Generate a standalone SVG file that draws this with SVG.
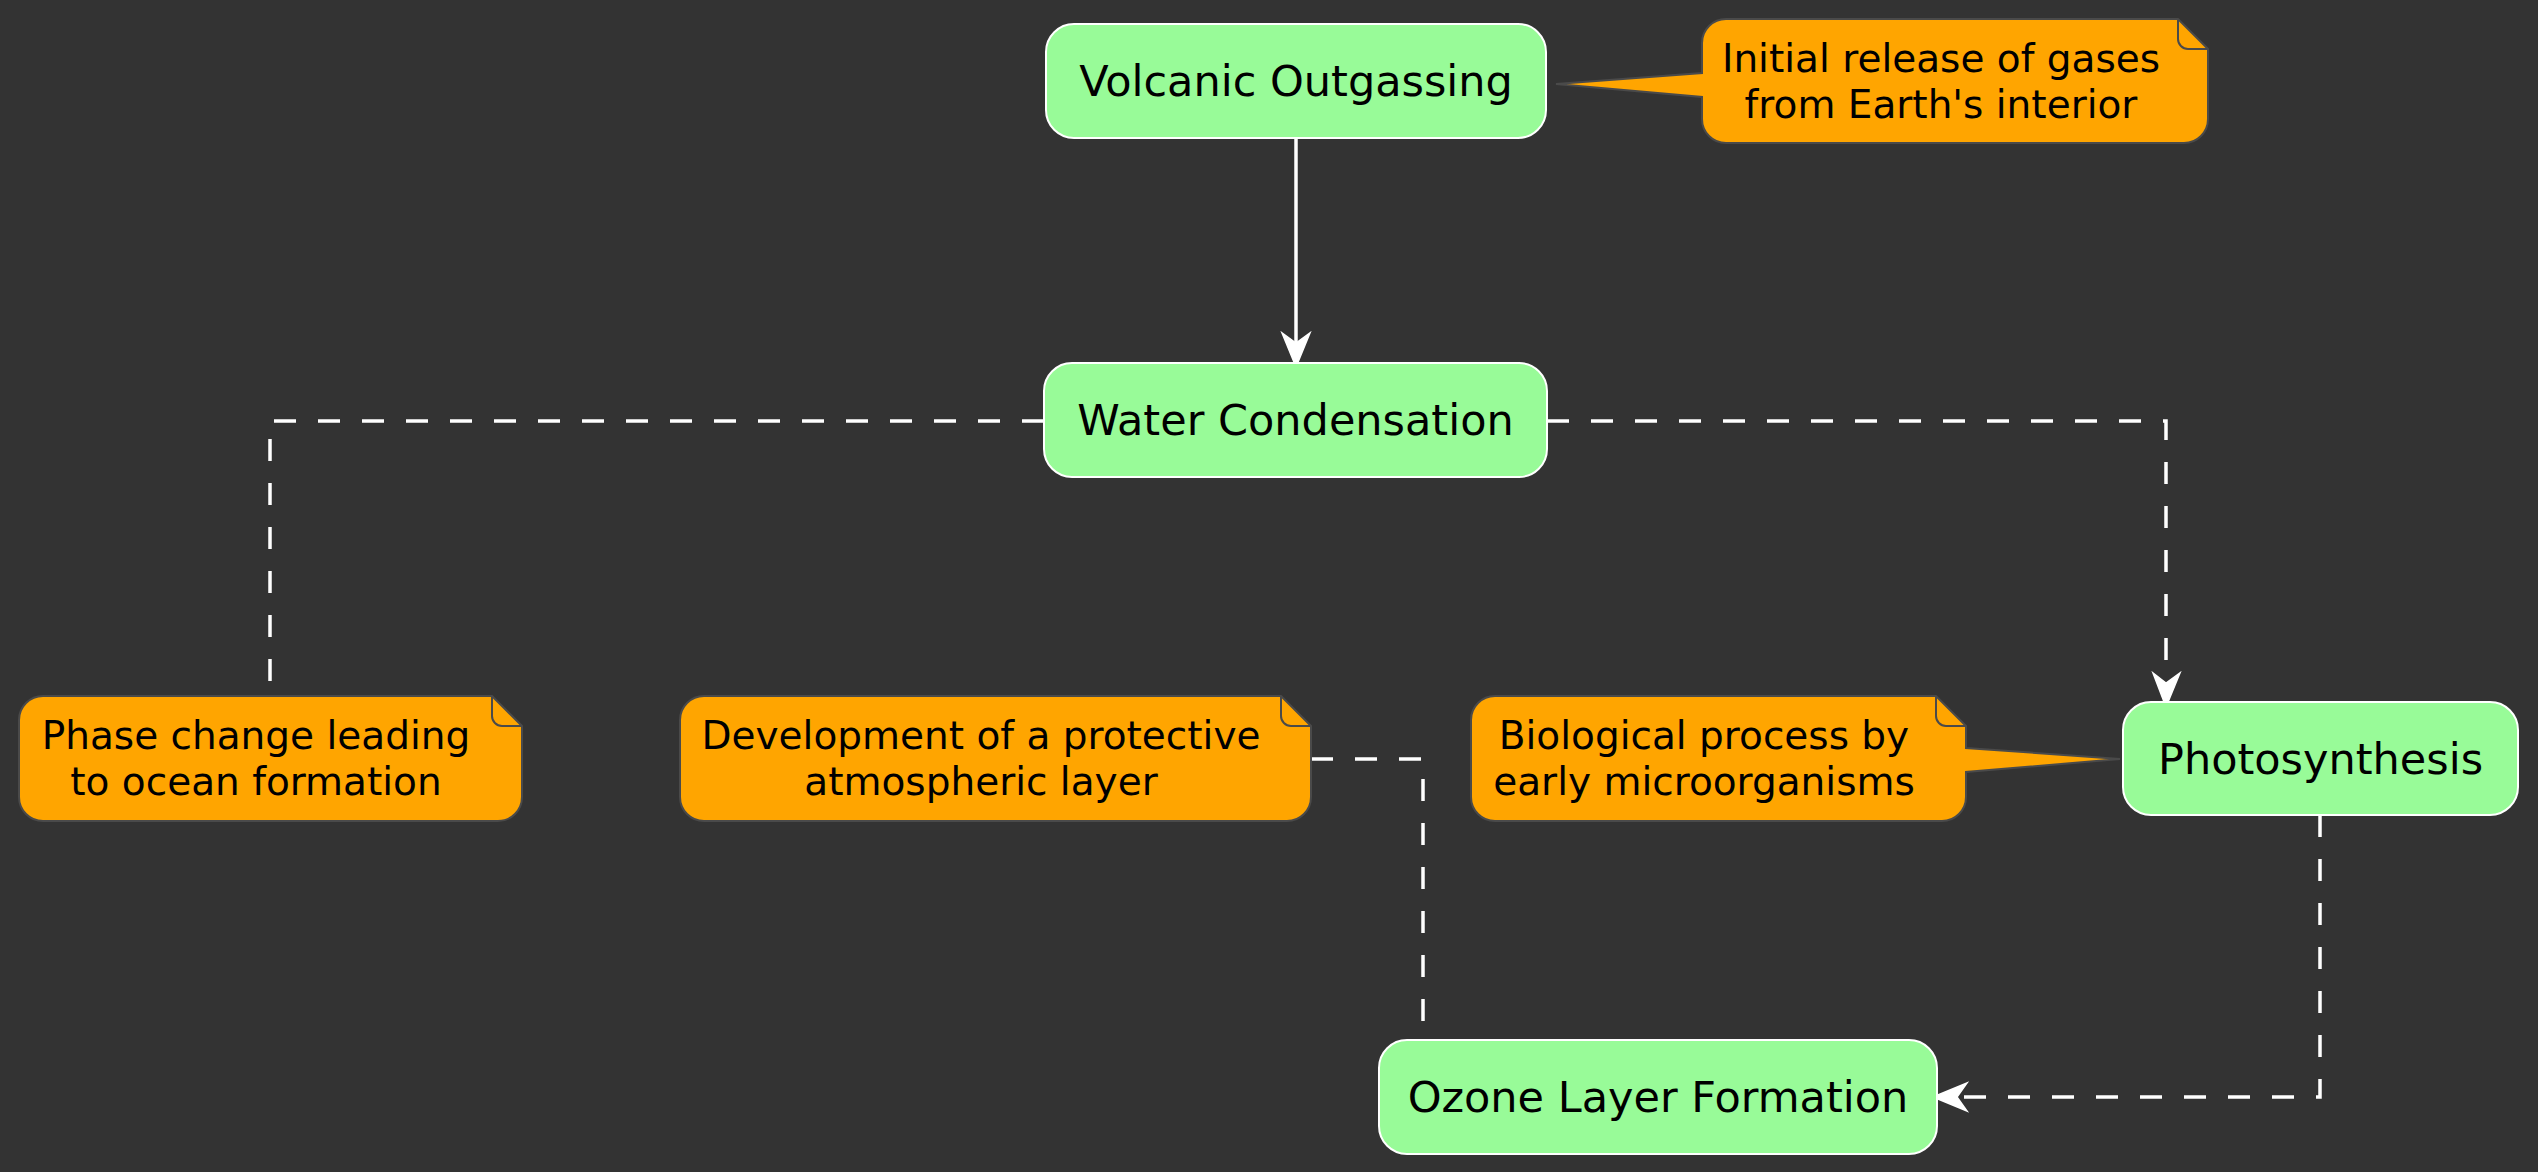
<svg xmlns="http://www.w3.org/2000/svg" width="2538" height="1172" viewBox="0 0 2538 1172">
<defs>
<style>
.node rect{fill:#98FB98;stroke:#FFFFFF;stroke-width:2}
.node text{font-family:"DejaVu Sans",Verdana,sans-serif;font-size:43px;fill:#000;text-anchor:middle}
.note path.body{fill:#FFA500;stroke:#4a4a4a;stroke-width:2}
.note path.fold{fill:none;stroke:#4a4a4a;stroke-width:2}
.note text{font-family:"DejaVu Sans",Verdana,sans-serif;font-size:39px;fill:#000;text-anchor:middle}
.edge{fill:none;stroke:#FFFFFF;stroke-width:3.5}
.dash{stroke-dasharray:22 22}
.head{fill:#FFFFFF;stroke:#FFFFFF;stroke-width:1.5;stroke-linejoin:miter}
</style>
</defs>
<rect x="0" y="0" width="2538" height="1172" fill="#333333"/>

<g id="connectors">
<path class="edge" d="M1296,138 V350"/>
<polygon class="head" points="1296,367 1282,333 1296,343 1310,333"/>
<path class="edge dash" d="M1044,421 H270 V696"/>
<path class="edge dash" d="M1547,421 H2166 V690"/>
<polygon class="head" points="2166,707 2153,673 2166,683 2180,673"/>
<path class="edge dash" d="M1311,759 H1423 V1040"/>
<path class="edge dash" d="M2320,815 V1097 H1950"/>
<polygon class="head" points="1933,1097 1967,1083 1957,1097 1967,1111"/>
</g>

<g id="node-volcanic" class="node">
<rect x="1046" y="24" width="500" height="114" rx="28" ry="28"/>
<text x="1296" y="96">Volcanic Outgassing</text>
</g>
<g id="node-water" class="node">
<rect x="1044" y="363" width="503" height="114" rx="28" ry="28"/>
<text x="1295.5" y="435">Water Condensation</text>
</g>
<g id="node-photosynthesis" class="node">
<rect x="2123" y="702" width="395" height="113" rx="28" ry="28"/>
<text x="2320.5" y="773.5">Photosynthesis</text>
</g>
<g id="node-ozone" class="node">
<rect x="1379" y="1040" width="558" height="114" rx="28" ry="28"/>
<text x="1658" y="1112">Ozone Layer Formation</text>
</g>

<g id="note-initial" class="note">
<path class="body" d="M1726,19 H2178 L2208,49 V119 A24,24 0 0 1 2184,143 H1726 A24,24 0 0 1 1702,119 V97 L1556,84 L1702,73 V43 A24,24 0 0 1 1726,19 Z"/>
<path class="fold" d="M2178,19 V39 A10,10 0 0 0 2188,49 H2208"/>
<text x="1941" y="72">Initial release of gases</text>
<text x="1941" y="118">from Earth's interior</text>
</g>
<g id="note-phase" class="note">
<path class="body" d="M43,696 H492 L522,726 V797 A24,24 0 0 1 498,821 H43 A24,24 0 0 1 19,797 V720 A24,24 0 0 1 43,696 Z"/>
<path class="fold" d="M492,696 V716 A10,10 0 0 0 502,726 H522"/>
<text x="256" y="749">Phase change leading</text>
<text x="256" y="795">to ocean formation</text>
</g>
<g id="note-development" class="note">
<path class="body" d="M704,696 H1281 L1311,726 V797 A24,24 0 0 1 1287,821 H704 A24,24 0 0 1 680,797 V720 A24,24 0 0 1 704,696 Z"/>
<path class="fold" d="M1281,696 V716 A10,10 0 0 0 1291,726 H1311"/>
<text x="981" y="749">Development of a protective</text>
<text x="981" y="795">atmospheric layer</text>
</g>
<g id="note-biological" class="note">
<path class="body" d="M1495,696 H1936 L1966,726 V748 L2120,759 L1966,772 V797 A24,24 0 0 1 1942,821 H1495 A24,24 0 0 1 1471,797 V720 A24,24 0 0 1 1495,696 Z"/>
<path class="fold" d="M1936,696 V716 A10,10 0 0 0 1946,726 H1966"/>
<text x="1704" y="749">Biological process by</text>
<text x="1704" y="795">early microorganisms</text>
</g>
</svg>
